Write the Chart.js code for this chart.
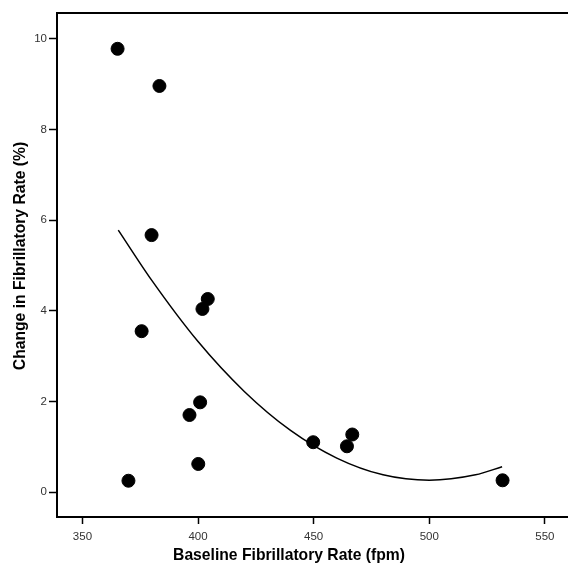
<!DOCTYPE html>
<html>
<head>
<meta charset="utf-8">
<script src="https://cdn.jsdelivr.net/npm/chart.js@4.4.1/dist/chart.umd.min.js"></script>
<style>
  html, body { margin: 0; padding: 0; background: #fff; }
  #wrap { width: 568px; height: 565px; position: relative; }
</style>
</head>
<body>
<div id="wrap"><canvas id="chart"></canvas></div>
<script>
// data
const baselineRate = [365.2, 383.3, 379.9, 375.6, 369.9, 404.2, 401.9, 400.9, 396.3, 400.1, 449.8, 464.4, 466.7, 531.7];
const rateChange   = [9.78, 8.96, 5.67, 3.55, 0.25, 4.26, 4.04, 1.98, 1.70, 0.62, 1.10, 1.01, 1.27, 0.26];

// fitted curve
const fitRate   = [365.5, 380, 400, 420, 440, 460, 480, 500, 520, 531.5];
const fitChange = [5.78, 4.67, 3.32, 2.22, 1.36, 0.75, 0.38, 0.26, 0.38, 0.56];

const xTicks = [350, 400, 450, 500, 550];
const yTicks = [0, 2, 4, 6, 8, 10];

const xTitle = 'Baseline Fibrillatory Rate (fpm)';
const yTitle = 'Change in Fibrillatory Rate (%)';

const scatterPts = baselineRate.map((x, i) => ({ x: x, y: rateChange[i] }));
const fitPts = fitRate.map((x, i) => ({ x: x, y: fitChange[i] }));

// top frame line + axis titles
const framePlugin = {
    id: 'frame',
    afterDraw(chart) {
        const ctx = chart.ctx;
        const area = chart.chartArea;
        ctx.save();
        ctx.strokeStyle = '#000';
        ctx.lineWidth = 2;
        ctx.beginPath();
        ctx.moveTo(area.left - 1, area.top);
        ctx.lineTo(chart.width, area.top);
        ctx.stroke();

        ctx.fillStyle = '#000';
        ctx.font = 'bold 15.7px "Liberation Sans", Arial, sans-serif';
        ctx.textAlign = 'center';
        ctx.textBaseline = 'middle';
        ctx.fillText(xTitle, 289, 556);

        ctx.translate(20.5, 256);
        ctx.rotate(-Math.PI / 2);
        ctx.fillText(yTitle, 0, 0);
        ctx.restore();
    }
};

const tickFont = { family: '"Liberation Sans", Arial, sans-serif', size: 11.5 };

new Chart(document.getElementById('chart'), {
    type: 'scatter',
    data: {
        datasets: [
            {
                label: 'data',
                data: scatterPts,
                backgroundColor: '#000',
                borderColor: '#000',
                pointRadius: 6.5,
                pointHoverRadius: 6.5,
                order: 1
            },
            {
                label: 'fit',
                type: 'line',
                data: fitPts,
                borderColor: '#000',
                borderWidth: 1.5,
                pointRadius: 0,
                fill: false,
                cubicInterpolationMode: 'monotone',
                order: 2
            }
        ]
    },
    options: {
        responsive: true,
        maintainAspectRatio: false,
        animation: false,
        layout: { autoPadding: false, padding: { top: 13, right: 0, left: 0, bottom: 0 } },
        plugins: {
            legend: { display: false },
            tooltip: { enabled: false }
        },
        scales: {
            x: {
                type: 'linear',
                min: 339,
                max: 560,
                afterBuildTicks: (s) => { s.ticks = xTicks.map(v => ({ value: v })); },
                afterFit: (s) => { s.height = 48; s.paddingLeft = 0; s.paddingRight = 0; },
                grid: { drawOnChartArea: false, tickLength: 7, tickColor: '#000', tickWidth: 1.5 },
                border: { color: '#000', width: 2 },
                ticks: { color: '#333', font: tickFont, padding: 6 }
            },
            y: {
                type: 'linear',
                min: -0.55,
                max: 10.57,
                afterBuildTicks: (s) => { s.ticks = yTicks.map(v => ({ value: v })); },
                afterFit: (s) => { s.width = 57; s.paddingTop = 0; s.paddingBottom = 0; },
                grid: { drawOnChartArea: false, tickLength: 8, tickColor: '#000', tickWidth: 1.5 },
                border: { color: '#000', width: 2 },
                ticks: { color: '#333', font: tickFont, padding: 2 }
            }
        }
    },
    plugins: [framePlugin]
});
</script>
</body>
</html>
